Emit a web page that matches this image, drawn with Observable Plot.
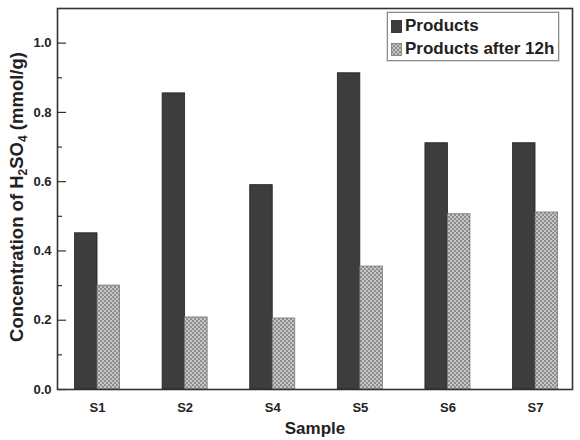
<!DOCTYPE html>
<html>
<head>
<meta charset="utf-8">
<script src="https://cdn.jsdelivr.net/npm/d3@7"></script>
<script src="https://cdn.jsdelivr.net/npm/@observablehq/plot@0.6"></script>
<style>
  body { margin: 0; background: #fff; }
  #wrap { position: relative; width: 580px; height: 440px; font-family: "Liberation Sans", Arial, sans-serif; font-weight: bold; color: #222; }
  #wrap svg.chart { position: absolute; left: 0; top: 0; }
  #legend { position: absolute; left: 387px; top: 12px; width: 170px; height: 47px; border: 1.5px solid #8a8a8a; background: #fff; box-shadow: 0 0 0 1px #ddd; }
  .row { position: absolute; left: 3px; height: 20px; display: flex; align-items: center; font-size: 17px; white-space: nowrap; }
  .row svg { margin-right: 3px; }
  #ylab { position: absolute; left: 17px; top: 197px; transform: translate(-50%, -50%) rotate(-90deg); font-size: 18.5px; white-space: nowrap; color: #222; }
  #ylab sub { font-size: 12px; vertical-align: -4px; line-height: 0; }
</style>
</head>
<body>
<div id="wrap"></div>
<script>
// ---- data ----
const samples = ["S1", "S2", "S4", "S5", "S6", "S7"];
const products = [0.451, 0.855, 0.590, 0.913, 0.711, 0.711];
const productsAfter12h = [0.300, 0.208, 0.205, 0.355, 0.506, 0.511];
const seriesNames = ["Products", "Products after 12h"];
const yTicks = [0, 0.2, 0.4, 0.6, 0.8, 1.0];
const yMinorTicks = [0.1, 0.3, 0.5, 0.7, 0.9];

const barWidth = 0.257; // in category units
const rowsP = samples.map((s, i) => ({i, s, v: products[i]}));
const rowsA = samples.map((s, i) => ({i, s, v: productsAfter12h[i]}));

const font = '"Liberation Sans", Arial, sans-serif';

const chart = Plot.plot({
  width: 580,
  height: 440,
  marginLeft: 57,
  marginRight: 8,
  marginTop: 8,
  marginBottom: 51,
  style: {fontFamily: font, fontWeight: "bold", fontSize: "13px", color: "#222", background: "#fff"},
  x: {type: "linear", domain: [-0.457, 5.422]},
  y: {domain: [0, 1.1]},
  marks: [
    Plot.rect(rowsP, {x1: d => d.i - barWidth, x2: d => d.i, y1: () => 0, y2: "v", fill: "#3d3d3d", stroke: "#222", strokeWidth: 0.8}),
    Plot.rect(rowsA, {x1: d => d.i, x2: d => d.i + barWidth, y1: () => 0, y2: "v", fill: "url(#checker)", stroke: "#777", strokeWidth: 0.8}),
    Plot.axisX({ticks: samples.map((s, i) => i), tickFormat: i => samples[i], tickSize: 0, tickPadding: 13, label: null, fontSize: 13}),
    Plot.axisY({ticks: yTicks, tickFormat: d3.format(".1f"), tickSize: 0, tickPadding: 6, label: null, fontSize: 13}),
    Plot.axisY({ticks: yTicks, tickSize: -9, text: null, label: null, stroke: "#333", strokeWidth: 1.2}),
    Plot.axisY({ticks: yMinorTicks, tickSize: -5, text: null, label: null, stroke: "#333", strokeWidth: 1.2}),
    Plot.text(["Sample"], {frameAnchor: "bottom", dy: 44, text: d => d, fontSize: 17, fontWeight: "bold", fill: "#222"}),
    Plot.frame({stroke: "#333", strokeWidth: 1.6})
  ]
});
chart.classList.add("chart");

// checker pattern definition
const defs = d3.select(chart).insert("defs", ":first-child");
const pat = defs.append("pattern").attr("id", "checker").attr("patternUnits", "userSpaceOnUse")
  .attr("width", 4).attr("height", 4);
pat.append("rect").attr("width", 4).attr("height", 4).attr("fill", "#c6c6c6");
pat.append("rect").attr("x", 0).attr("y", 0).attr("width", 2).attr("height", 2).attr("fill", "#8e8e8e");
pat.append("rect").attr("x", 2).attr("y", 2).attr("width", 2).attr("height", 2).attr("fill", "#8e8e8e");

const wrap = document.getElementById("wrap");
wrap.appendChild(chart);

// y label with subscripts
const ylab = document.createElement("div");
ylab.id = "ylab";
ylab.innerHTML = "Concentration of H<sub>2</sub>SO<sub>4</sub> (mmol/g)";
wrap.appendChild(ylab);

// legend
const legend = document.createElement("div");
legend.id = "legend";
const swatchFills = ["#3d3d3d", "url(#checkerL)"];
const swatchStrokes = ["#222", "#777"];
seriesNames.forEach((name, k) => {
  const row = document.createElement("div");
  row.className = "row";
  row.style.top = (3 + k * 23) + "px";
  row.innerHTML = `<svg width="11" height="13"><defs><pattern id="checkerL" patternUnits="userSpaceOnUse" width="4" height="4"><rect width="4" height="4" fill="#c6c6c6"/><rect width="2" height="2" fill="#8e8e8e"/><rect x="2" y="2" width="2" height="2" fill="#8e8e8e"/></pattern></defs><rect x="0.5" y="0.5" width="10" height="12" fill="${swatchFills[k]}" stroke="${swatchStrokes[k]}" stroke-width="0.8"/></svg><span>${name}</span>`;
  legend.appendChild(row);
});
wrap.appendChild(legend);
</script>
</body>
</html>
